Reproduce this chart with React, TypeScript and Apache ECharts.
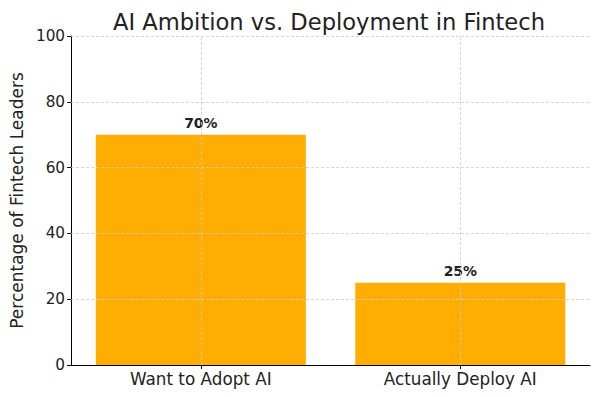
import React, { useEffect, useRef } from "react";
import * as echarts from "echarts";

const categories = ["Want to Adopt AI", "Actually Deploy AI"];
const values = [70, 25];
const yTicks = [20, 40, 60, 80, 100];

export default function App() {
  const ref = useRef<HTMLDivElement>(null);
  useEffect(() => {
    document.body.style.margin = "0";
    const chart = echarts.init(ref.current!, null, { renderer: "svg" });
    const font = "DejaVu Sans";
    const gridLine = { color: "#cccccc", type: [3, 2] as any, width: 0.8 };
    chart.setOption({
      animation: false,
      backgroundColor: "#ffffff",
      title: {
        text: "AI Ambition vs. Deployment in Fintech",
        left: 324,
        textAlign: "center",
        top: 5,
        textStyle: { fontFamily: font, fontSize: 22.6, fontWeight: "normal", color: "#222" },
      },
      grid: { left: 70, right: 10, top: 36, bottom: 32 },
      xAxis: {
        type: "category",
        data: categories,
        axisLine: { lineStyle: { color: "#000", width: 1 } },
        axisTick: { show: true, alignWithLabel: true, length: 4, lineStyle: { color: "#000" } },
        axisLabel: { fontFamily: font, fontSize: 16.8, color: "#222", margin: 5 },
        splitLine: { show: false },
      },
      yAxis: {
        type: "value",
        min: 0,
        max: 100,
        interval: 20,
        name: "Percentage of Fintech Leaders",
        nameLocation: "middle",
        nameGap: 44,
        nameTextStyle: { fontFamily: font, fontSize: 17, color: "#222" },
        axisLine: { show: true, lineStyle: { color: "#000", width: 1 } },
        axisTick: { show: true, length: 4, lineStyle: { color: "#000" } },
        axisLabel: { fontFamily: font, fontSize: 15.3, color: "#222", margin: 6 },
        splitLine: { show: false },
      },
      series: [
        {
          type: "bar",
          data: values,
          barWidth: 210,
          itemStyle: { color: "#ffad00" },
          label: {
            show: true,
            position: "top",
            distance: 5,
            formatter: (p: any) => p.value + "%",
            fontFamily: font,
            fontSize: 13.9,
            fontWeight: "bold",
            color: "#222",
          },
          markLine: {
            silent: true,
            symbol: "none",
            label: { show: false },
            lineStyle: gridLine,
            emphasis: { disabled: true },
            data: [
              ...categories.map((c) => ({ xAxis: c })),
              ...yTicks.map((v) => ({ yAxis: v })),
            ],
          },
        },
      ],
    });
    return () => chart.dispose();
  }, []);
  return <div ref={ref} style={{ width: 600, height: 397 }} />;
}
